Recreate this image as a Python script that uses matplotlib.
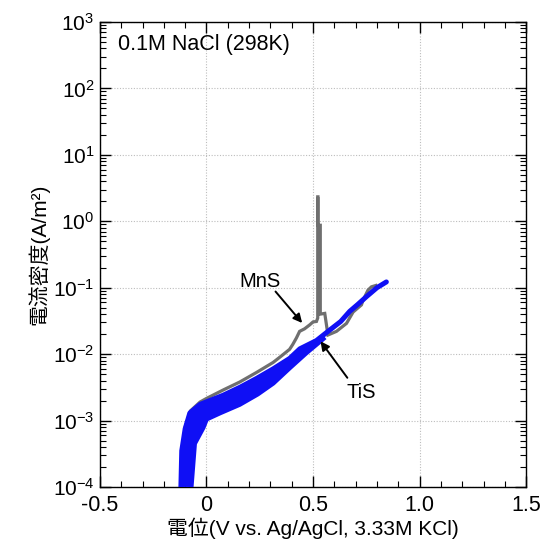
import math
import matplotlib
matplotlib.use("Agg")
import matplotlib.pyplot as plt
from matplotlib.ticker import LogLocator, FixedLocator, NullFormatter, FuncFormatter

plt.rcParams['font.family'] = ['Liberation Sans', 'Noto Sans CJK JP', 'DejaVu Sans']
plt.rcParams['mathtext.fontset'] = 'custom'
plt.rcParams['mathtext.rm'] = 'Liberation Sans'
plt.rcParams['mathtext.default'] = 'regular'
plt.rcParams['axes.unicode_minus'] = False

# ---------------- data ----------------
# TiS forward scan (upper side of band, continuing as main curve)
tis_fwd_x = [-0.120, -0.116, -0.100, -0.078, -0.030, 0.078, 0.160, 0.235, 0.313, 0.390,
             0.438, 0.516, 0.578, 0.630, 0.672, 0.710, 0.750, 0.800, 0.844]
tis_fwd_y = [1.0e-4, 3.5e-4, 7.5e-4, 1.3e-3, 1.75e-3, 2.4e-3, 3.2e-3, 4.3e-3, 6.0e-3, 8.6e-3,
             1.2e-2, 1.6e-2, 2.3e-2, 3.1e-2, 4.4e-2, 5.6e-2, 7.3e-2, 1.0e-1, 1.22e-1]
# TiS reverse scan (lower side of band)
tis_rev_x = [-0.072, -0.056, -0.016, 0.000, 0.063, 0.156, 0.240, 0.313, 0.390, 0.469, 0.547]
tis_rev_y = [1.0e-4, 4.5e-4, 7.8e-4, 1.05e-3, 1.3e-3, 1.75e-3, 2.5e-3, 3.65e-3, 6.2e-3, 1.05e-2, 1.7e-2]

# MnS
mns_x = [-0.115, -0.100, -0.075, -0.030, 0.000, 0.080, 0.156, 0.235, 0.313, 0.350, 0.390,
         0.405, 0.422, 0.437, 0.460, 0.484, 0.500, 0.516, 0.522, 0.522, 0.523, 0.523,
         0.534, 0.534, 0.555, 0.570, 0.610, 0.657, 0.688, 0.727, 0.735, 0.758, 0.774, 0.795]
mns_y = [1.0e-4, 8.0e-4, 1.4e-3, 1.9e-3, 2.15e-3, 2.9e-3, 3.8e-3, 5.3e-3, 7.5e-3, 9.3e-3, 1.18e-2,
         1.4e-2, 1.75e-2, 2.2e-2, 2.4e-2, 2.75e-2, 3.05e-2, 3.1e-2, 3.5e-2, 2.33, 2.33, 0.87,
         0.87, 0.040, 0.041, 0.0194, 0.022, 0.029, 0.043, 0.055, 0.065, 0.092, 0.103, 0.108]

xticks = [-0.5, 0, 0.5, 1.0, 1.5]
xtick_labels = ["-0.5", "0", "0.5", "1.0", "1.5"]
yticks = [1e-4, 1e-3, 1e-2, 1e-1, 1e0, 1e1, 1e2, 1e3]

# ---------------- figure ----------------
fig = plt.figure(figsize=(5.43, 5.49), dpi=100)
ax = fig.add_axes([0.184, 0.113, 0.785, 0.847])

gray = '#6f6f6f'
blue = '#0f0ff5'

ax.plot(mns_x, mns_y, color=gray, lw=2.3, solid_joinstyle='miter', zorder=3)

n_fwd_band = 12
poly_x = tis_fwd_x[:n_fwd_band] + tis_rev_x[::-1]
poly_y = tis_fwd_y[:n_fwd_band] + tis_rev_y[::-1]
ax.fill(poly_x, poly_y, color=blue, lw=0, zorder=4)
ax.plot(tis_rev_x, tis_rev_y, color=blue, lw=3.5, zorder=4)
ax.plot(tis_fwd_x, tis_fwd_y, color=blue, lw=3.6, zorder=4, solid_capstyle='round')

ax.set_xlim(-0.5, 1.5)
ax.set_yscale('log')
ax.set_ylim(1e-4, 1e3)

ax.xaxis.set_major_locator(FixedLocator(xticks))
ax.set_xticklabels(xtick_labels)
ax.xaxis.set_minor_locator(FixedLocator([i / 10 for i in range(-5, 16)]))
ax.yaxis.set_major_locator(FixedLocator(yticks))
ax.yaxis.set_major_formatter(FuncFormatter(lambda v, p: r'$10^{%d}$' % round(math.log10(v))))
ax.yaxis.set_minor_locator(LogLocator(base=10, subs=range(2, 10), numticks=20))
ax.yaxis.set_minor_formatter(NullFormatter())

ax.tick_params(which='both', direction='in', top=True, right=True, colors='black')
ax.tick_params(which='major', length=8, width=1.0)
ax.tick_params(axis='x', which='major', labelsize=15.5, pad=6)
ax.tick_params(axis='y', which='major', labelsize=15, pad=4)
ax.tick_params(which='minor', length=4, width=0.8)
for s in ax.spines.values():
    s.set_linewidth(1.0)

ax.grid(True, which='major', linestyle=(0, (1, 1.5)), color='#bdbdbd', lw=0.8, zorder=0)

ax.text(0.043, 0.951, '0.1M NaCl (298K)', transform=ax.transAxes, fontsize=15.5,
        ha='left', va='center')

ax.annotate('', xy=(0.449, 0.0294), xytext=(0.324, 0.0875),
            arrowprops=dict(arrowstyle='-|>', color='black', lw=1.4, mutation_scale=13,
                            shrinkA=0, shrinkB=0), zorder=6)
ax.text(0.253, 0.123, 'MnS', fontsize=14.5, ha='center', va='center', zorder=6)
ax.annotate('', xy=(0.535, 0.0156), xytext=(0.661, 4.4e-3),
            arrowprops=dict(arrowstyle='-|>', color='black', lw=1.4, mutation_scale=13,
                            shrinkA=0, shrinkB=0), zorder=6)
ax.text(0.728, 2.6e-3, 'TiS', fontsize=14.5, ha='center', va='center', zorder=6)

ax.set_xlabel('電位(V vs. Ag/AgCl, 3.33M KCl)', fontsize=15, labelpad=1)
ax.set_ylabel('電流密度(A/m²)', fontsize=15, labelpad=2)

fig.savefig('out.png', dpi=100)
